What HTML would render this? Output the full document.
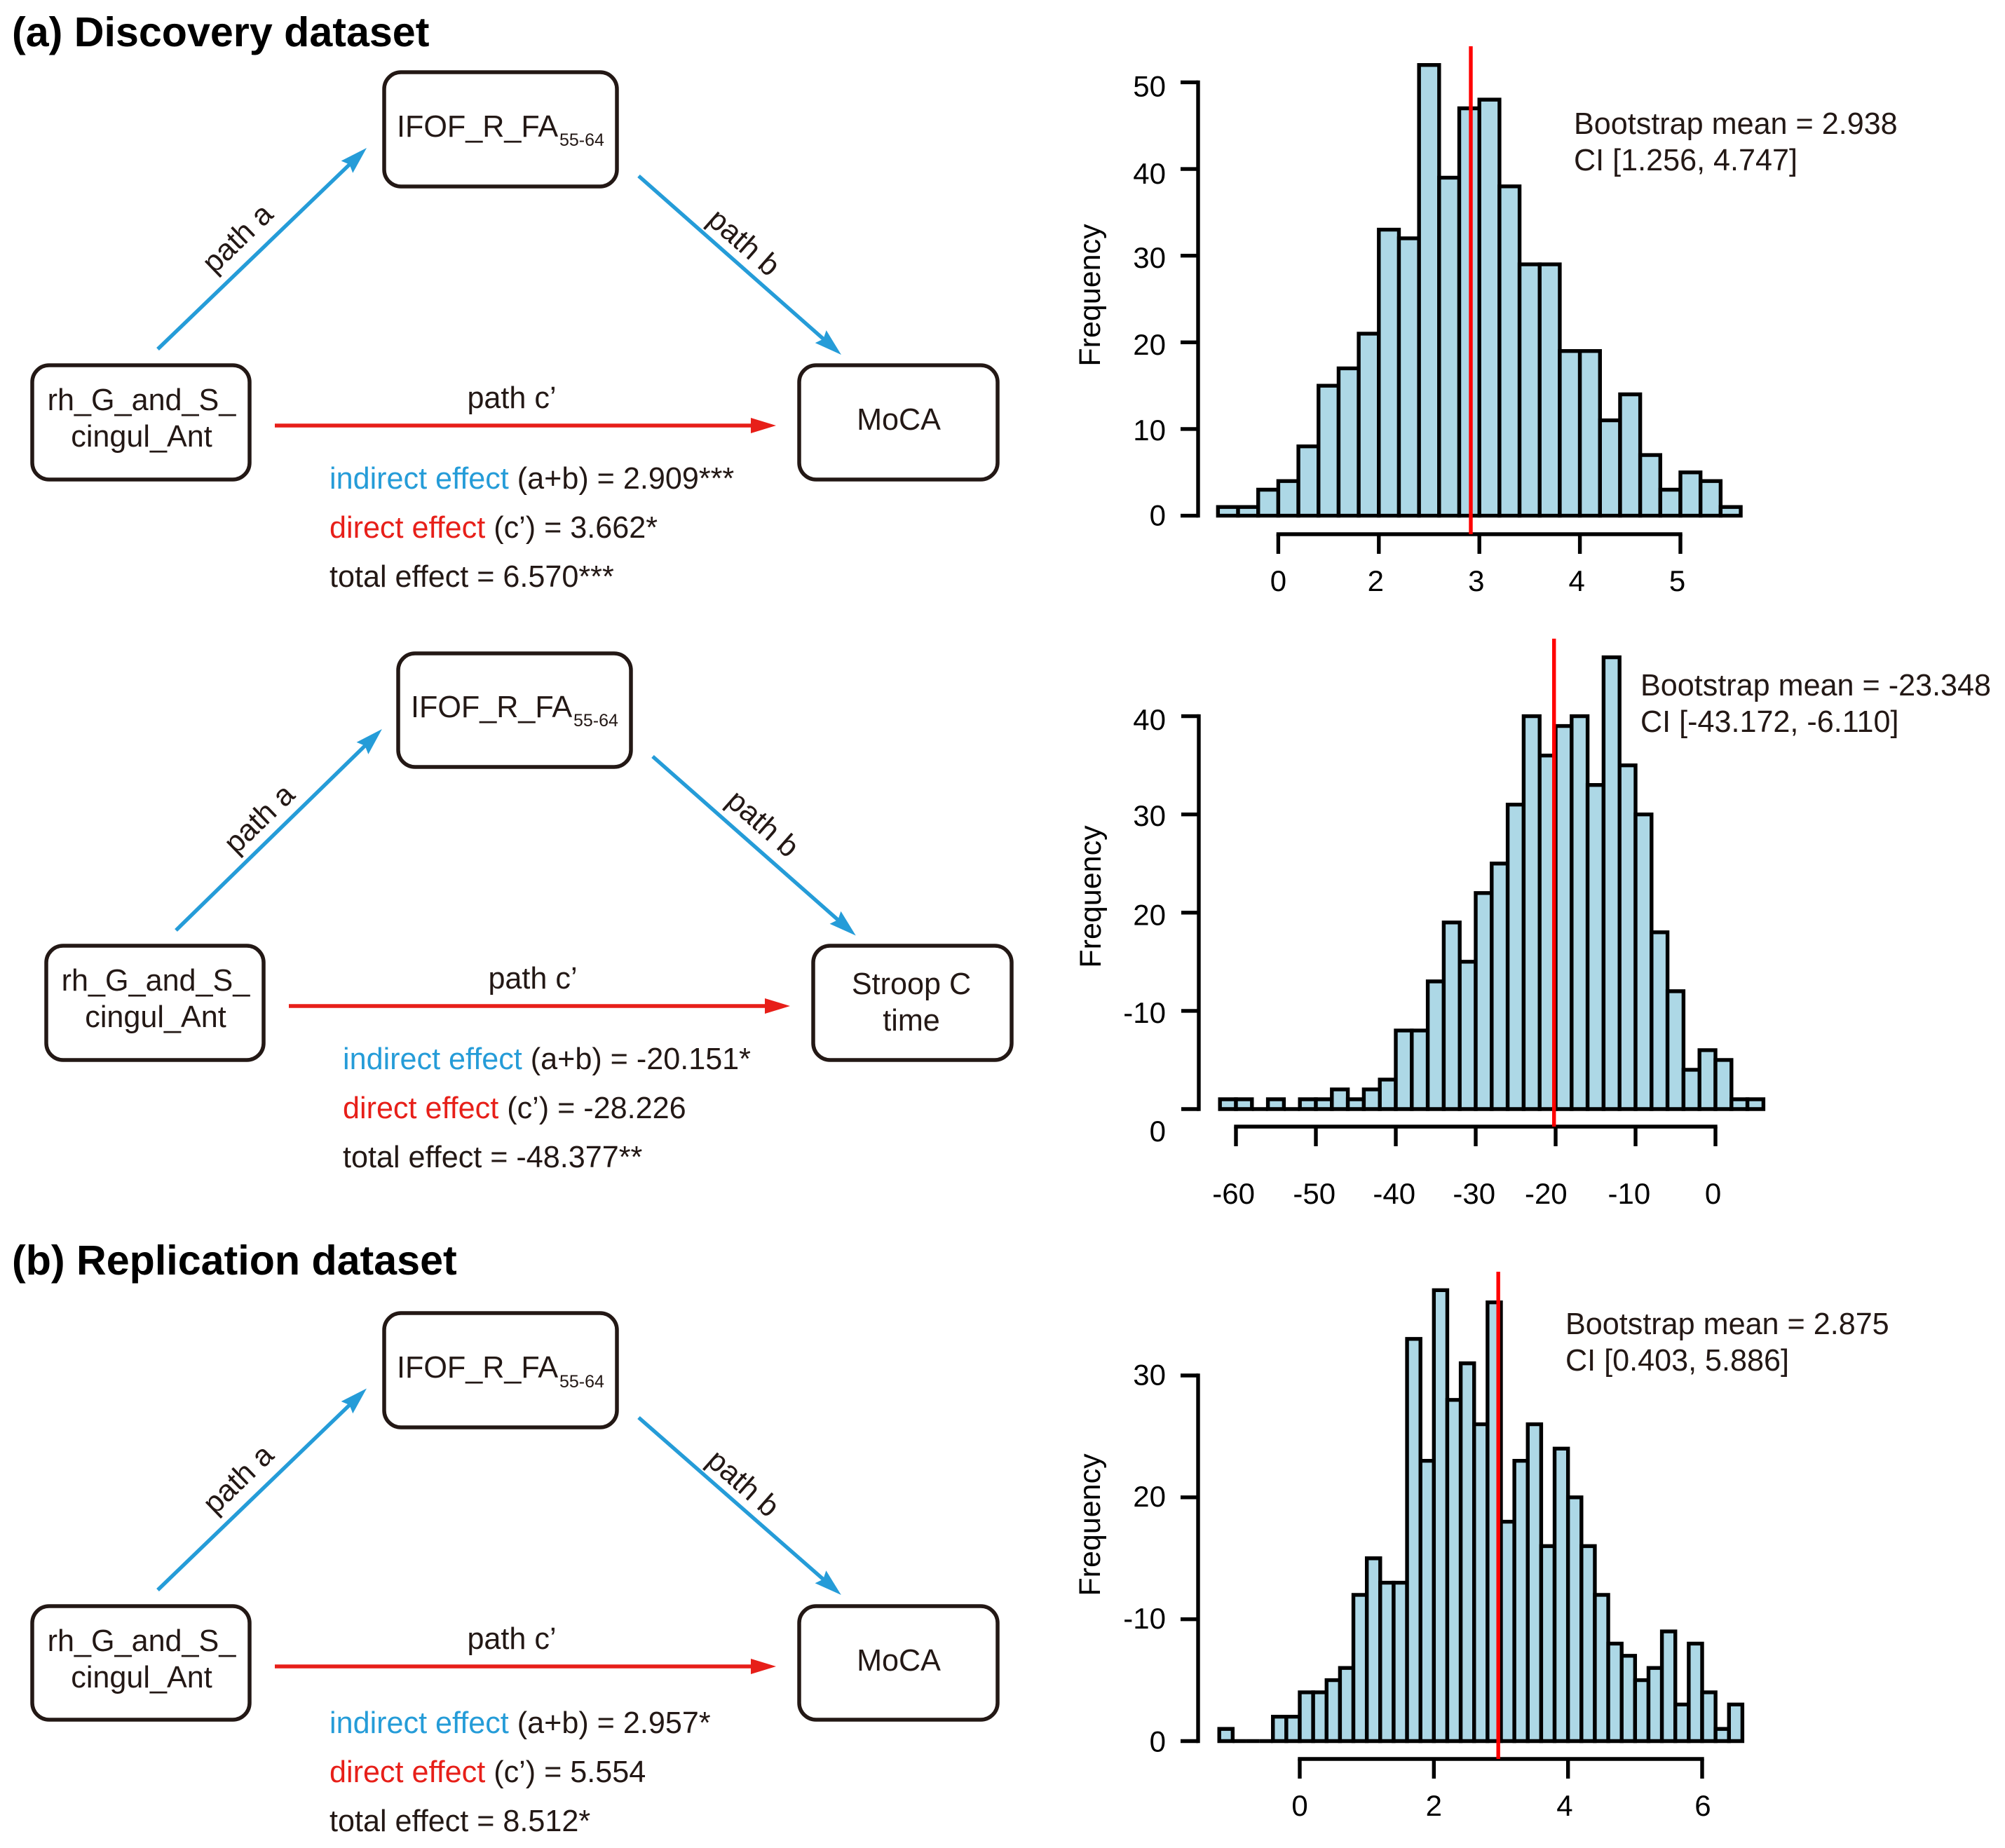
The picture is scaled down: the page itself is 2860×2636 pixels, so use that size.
<!DOCTYPE html>
<html lang="en">
<head>
<meta charset="utf-8">
<title>Mediation diagrams and bootstrap histograms</title>
<style>
html,body{margin:0;padding:0;background:#fff;}
svg{display:block;}
text{font-family:"Liberation Sans",Arial,sans-serif;fill:#231815;}
.t{font-size:43.15px;}
.h{font-size:59.2px;font-weight:bold;fill:#000;}
.s{font-size:25px;}
.m{text-anchor:middle;}
.blue{fill:#259cd8;}
.red{fill:#e71f19;}
.box{fill:#fff;stroke:#231815;stroke-width:5.5;}
.ab{stroke:#259cd8;stroke-width:5.4;fill:none;}
.ac{stroke:#e71f19;stroke-width:5.4;fill:none;}
</style>
</head>
<body>
<svg id="fig" xmlns="http://www.w3.org/2000/svg" width="2860" height="2636" viewBox="0 0 2860 2636">
<defs>
<marker id="hb" markerUnits="userSpaceOnUse" markerWidth="44" markerHeight="28" viewBox="0 -14 44 28" refX="14" refY="0" orient="auto"><path d="M0,-12 L39,0 L0,12 L5,0 Z" fill="#259cd8"/></marker>
<marker id="hr" markerUnits="userSpaceOnUse" markerWidth="44" markerHeight="28" viewBox="0 -14 44 28" refX="11" refY="0" orient="auto"><path d="M0,-11 L36,0 L0,11 Z" fill="#e71f19"/></marker>
</defs>

<text class="h" x="17" y="66">(a) Discovery dataset</text>
<text class="h" x="17" y="1818">(b) Replication dataset</text>

<!-- Diagram 1 -->
<g>
<rect class="box" x="548" y="103" width="332" height="163" rx="24"/>
<rect class="box" x="46" y="521" width="310" height="163" rx="24"/>
<rect class="box" x="1140" y="521" width="283" height="163" rx="24"/>
<text class="t" x="566" y="195">IFOF_R_FA</text>
<text class="s" x="798" y="208">55-64</text>
<text class="t m" x="202" y="585">rh_G_and_S_</text>
<text class="t m" x="202" y="637">cingul_Ant</text>
<text class="t m" x="1282" y="613">MoCA</text>
<line class="ab" x1="225" y1="498" x2="505" y2="228.4" marker-end="url(#hb)"/>
<line class="ab" x1="911" y1="251" x2="1181.2" y2="489.4" marker-end="url(#hb)"/>
<line class="ac" x1="392" y1="607" x2="1082" y2="607" marker-end="url(#hr)"/>
<text class="t m" x="339" y="354" transform="rotate(-44 339 340)">path a</text>
<text class="t m" x="1061" y="360" transform="rotate(41.4 1061 346)">path b</text>
<text class="t m" x="730" y="582">path c’</text>
<text class="t" x="470" y="697"><tspan class="blue">indirect effect</tspan> (a+b) = 2.909***</text>
<text class="t" x="470" y="767"><tspan class="red">direct effect</tspan> (c’) = 3.662*</text>
<text class="t" x="470" y="837">total effect = 6.570***</text>
</g>

<!-- Diagram 2 -->
<g>
<rect class="box" x="568" y="932" width="332" height="162" rx="24"/>
<rect class="box" x="66" y="1349" width="310" height="163" rx="24"/>
<rect class="box" x="1160" y="1349" width="283" height="163" rx="24"/>
<text class="t" x="586" y="1023">IFOF_R_FA</text>
<text class="s" x="818" y="1036">55-64</text>
<text class="t m" x="222" y="1413">rh_G_and_S_</text>
<text class="t m" x="222" y="1465">cingul_Ant</text>
<text class="t m" x="1300" y="1418">Stroop C</text>
<text class="t m" x="1300" y="1470">time</text>
<line class="ab" x1="251" y1="1327" x2="527" y2="1057.5" marker-end="url(#hb)"/>
<line class="ab" x1="931" y1="1079" x2="1202" y2="1318" marker-end="url(#hb)"/>
<line class="ac" x1="412" y1="1435" x2="1102" y2="1435" marker-end="url(#hr)"/>
<text class="t m" x="370" y="1182" transform="rotate(-44 370 1168)">path a</text>
<text class="t m" x="1088" y="1189" transform="rotate(41.4 1088 1175)">path b</text>
<text class="t m" x="760" y="1410">path c’</text>
<text class="t" x="489" y="1525"><tspan class="blue">indirect effect</tspan> (a+b) = -20.151*</text>
<text class="t" x="489" y="1595"><tspan class="red">direct effect</tspan> (c’) = -28.226</text>
<text class="t" x="489" y="1665">total effect = -48.377**</text>
</g>

<!-- Diagram 3 -->
<g>
<rect class="box" x="548" y="1873" width="332" height="163" rx="24"/>
<rect class="box" x="46" y="2291" width="310" height="162" rx="24"/>
<rect class="box" x="1140" y="2291" width="283" height="162" rx="24"/>
<text class="t" x="566" y="1965">IFOF_R_FA</text>
<text class="s" x="798" y="1979">55-64</text>
<text class="t m" x="202" y="2355">rh_G_and_S_</text>
<text class="t m" x="202" y="2407">cingul_Ant</text>
<text class="t m" x="1282" y="2383">MoCA</text>
<line class="ab" x1="225" y1="2268" x2="505" y2="1997.9" marker-end="url(#hb)"/>
<line class="ab" x1="911" y1="2022" x2="1181" y2="2258.5" marker-end="url(#hb)"/>
<line class="ac" x1="392" y1="2377" x2="1082" y2="2377" marker-end="url(#hr)"/>
<text class="t m" x="340" y="2124" transform="rotate(-44 340 2110)">path a</text>
<text class="t m" x="1060" y="2130" transform="rotate(41.4 1060 2116)">path b</text>
<text class="t m" x="730" y="2352">path c’</text>
<text class="t" x="470" y="2472"><tspan class="blue">indirect effect</tspan> (a+b) = 2.957*</text>
<text class="t" x="470" y="2542"><tspan class="red">direct effect</tspan> (c’) = 5.554</text>
<text class="t" x="470" y="2612">total effect = 8.512*</text>
</g>

<!-- Histogram annotations -->
<text class="t" x="2245" y="191">Bootstrap mean = 2.938</text>
<text class="t" x="2245" y="243">CI [1.256, 4.747]</text>
<text class="t" x="2340" y="992">Bootstrap mean = -23.348</text>
<text class="t" x="2340" y="1044">CI [-43.172, -6.110]</text>
<text class="t" x="2233" y="1903">Bootstrap mean = 2.875</text>
<text class="t" x="2233" y="1955">CI [0.403, 5.886]</text>
</svg>

<script>
// Histogram 1 data
const h1Counts = [1,1,3,4,8,15,17,21,33,32,52,39,47,48,38,29,29,19,19,11,14,7,3,5,4,1];
const h1BinStart = -0.6;
const h1BinWidth = 0.2;
const h1Mean = 1.915;
const h1XTicks = [0,1,2,3,4];
const h1XTickLabels = ['0','2','3','4','5'];
const h1XLabelAt = [0,0.969,1.969,2.969,3.969];
const h1YTicks = [0,10,20,30,40,50];
const h1YTickLabels = ['0','10','20','30','40','50'];
const h1YLabelAt = [0.1,9.9,19.8,29.8,39.5,49.6];

// Histogram 2 data
const h2Counts = [1,1,0,1,0,1,1,2,1,2,3,8,8,13,19,15,22,25,31,40,36,39,40,33,46,35,30,18,12,4,6,5,1,1];
const h2BinStart = -62;
const h2BinWidth = 2;
const h2Mean = -20.2;
const h2XTicks = [-60,-50,-40,-30,-20,-10,0];
const h2XTickLabels = ['-60','-50','-40','-30','-20','-10','0'];
const h2XLabelAt = [-60.3,-50.2,-40.2,-30.2,-21.2,-10.8,-0.3];
const h2YTicks = [0,10,20,30,40];
const h2YTickLabels = ['0','-10','20','30','40'];
const h2YLabelAt = [-2.2,9.85,19.8,29.9,39.7];

// Histogram 3 data
const h3Counts = [1,0,0,0,2,2,4,4,5,6,12,15,13,13,33,23,37,28,31,26,36,18,23,26,16,24,20,16,12,8,7,5,6,9,3,8,4,1,3];
const h3BinStart = -1.2;
const h3BinWidth = 0.2;
const h3Mean = 2.96;
const h3XTicks = [0,2,4,6];
const h3XTickLabels = ['0','2','4','6'];
const h3XLabelAt = [0,2,3.95,6.01];
const h3YTicks = [0,10,20,30];
const h3YTickLabels = ['0','-10','20','30'];
const h3YLabelAt = [0,10.1,20.1,30.1];

const SVGNS = 'http://www.w3.org/2000/svg';
const fig = document.getElementById('fig');

function linear(d0, r0, d1, r1) {
  return function (v) { return r0 + (v - d0) * (r1 - r0) / (d1 - d0); };
}

function make(parent, tag, attrs) {
  const el = document.createElementNS(SVGNS, tag);
  for (const k in attrs) el.setAttribute(k, attrs[k]);
  parent.appendChild(el);
  return el;
}

function drawHistogram(c) {
  const x = c.x, y = c.y;
  const g = make(fig, 'g', {});
  
  

  c.counts.forEach(function (n, i) {
    const x0 = x(c.binStart + i * c.binWidth);
    const x1 = x(c.binStart + (i + 1) * c.binWidth);
    const bar = make(g, 'path', {
      d: 'M' + x0 + ',' + y(0) + 'L' + x0 + ',' + y(n) + 'L' + x1 + ',' + y(n) + 'L' + x1 + ',' + y(0) + 'Z',
      fill: '#add8e6', stroke: '#000', 'stroke-width': 5.4, 'stroke-linejoin': 'miter'
    });
    
    
  });

  const yAxis = make(g, 'g', { stroke: '#000', 'stroke-width': 5.4, fill: 'none' });
  
  
  const yTop = c.yTicks[c.yTicks.length - 1];
  make(yAxis, 'path', { d: 'M' + c.axisX + ',' + y(0) + 'L' + c.axisX + ',' + y(yTop), 'stroke-linecap': 'square' });
  c.yTicks.forEach(function (t, i) {
    const tick = make(yAxis, 'line', { x1: c.axisX, x2: c.axisX - 25, y1: y(t), y2: y(t) });
    
    
    const lab = make(g, 'text', { x: 1663, y: y(c.yLabelAt[i]) + 15, 'text-anchor': 'end', 'font-size': 42, style: 'fill:#000' });
    lab.textContent = c.yLabels[i];
    
    
  });

  const xAxis = make(g, 'g', { stroke: '#000', 'stroke-width': 5.4, fill: 'none' });
  
  
  const xFirst = c.xTicks[0], xLast = c.xTicks[c.xTicks.length - 1];
  make(xAxis, 'path', { d: 'M' + x(xFirst) + ',' + c.axisY + 'L' + x(xLast) + ',' + c.axisY, 'stroke-linecap': 'square' });
  c.xTicks.forEach(function (t, i) {
    const tick = make(xAxis, 'line', { x1: x(t), x2: x(t), y1: c.axisY, y2: c.axisY + 28 });
    
    
    const lab = make(g, 'text', { x: x(c.xLabelAt[i]), y: c.xLabelY, 'text-anchor': 'middle', 'font-size': 42, style: 'fill:#000' });
    lab.textContent = c.xLabels[i];
    
    
  });

  const title = make(g, 'text', {
    x: c.titleX, y: c.titleY, 'text-anchor': 'middle', 'font-size': 43, style: 'fill:#000',
    transform: 'rotate(-90 ' + c.titleX + ' ' + c.titleY + ')', dy: '14'
  });
  title.textContent = 'Frequency';
  
  

  const mean = make(g, 'line', { x1: x(c.mean), x2: x(c.mean), y1: c.meanTop, y2: c.axisY, stroke: '#ff0000', 'stroke-width': 5.4 });
  
  
}

drawHistogram({
  name: 'histogram-1', counts: h1Counts, binStart: h1BinStart, binWidth: h1BinWidth, mean: h1Mean,
  xTicks: h1XTicks, xLabels: h1XTickLabels, xLabelAt: h1XLabelAt,
  yTicks: h1YTicks, yLabels: h1YTickLabels, yLabelAt: h1YLabelAt,
  x: linear(0, 1823.4, 4, 2397), y: linear(0, 735.6, 50, 117.4),
  axisX: 1709, axisY: 762, xLabelY: 843, titleX: 1555, titleY: 421, meanTop: 66
});
drawHistogram({
  name: 'histogram-2', counts: h2Counts, binStart: h2BinStart, binWidth: h2BinWidth, mean: h2Mean,
  xTicks: h2XTicks, xLabels: h2XTickLabels, xLabelAt: h2XLabelAt,
  yTicks: h2YTicks, yLabels: h2YTickLabels, yLabelAt: h2YLabelAt,
  x: linear(-60, 1763, 0, 2447), y: linear(0, 1582, 40, 1021.6),
  axisX: 1710, axisY: 1607, xLabelY: 1717, titleX: 1556, titleY: 1279, meanTop: 911
});
drawHistogram({
  name: 'histogram-3', counts: h3Counts, binStart: h3BinStart, binWidth: h3BinWidth, mean: h3Mean,
  xTicks: h3XTicks, xLabels: h3XTickLabels, xLabelAt: h3XLabelAt,
  yTicks: h3YTicks, yLabels: h3YTickLabels, yLabelAt: h3YLabelAt,
  x: linear(0, 1854, 6, 2428), y: linear(0, 2483.5, 30, 1962),
  axisX: 1709, axisY: 2509, xLabelY: 2590, titleX: 1555, titleY: 2175, meanTop: 1814
});
</script>
</body>
</html>
